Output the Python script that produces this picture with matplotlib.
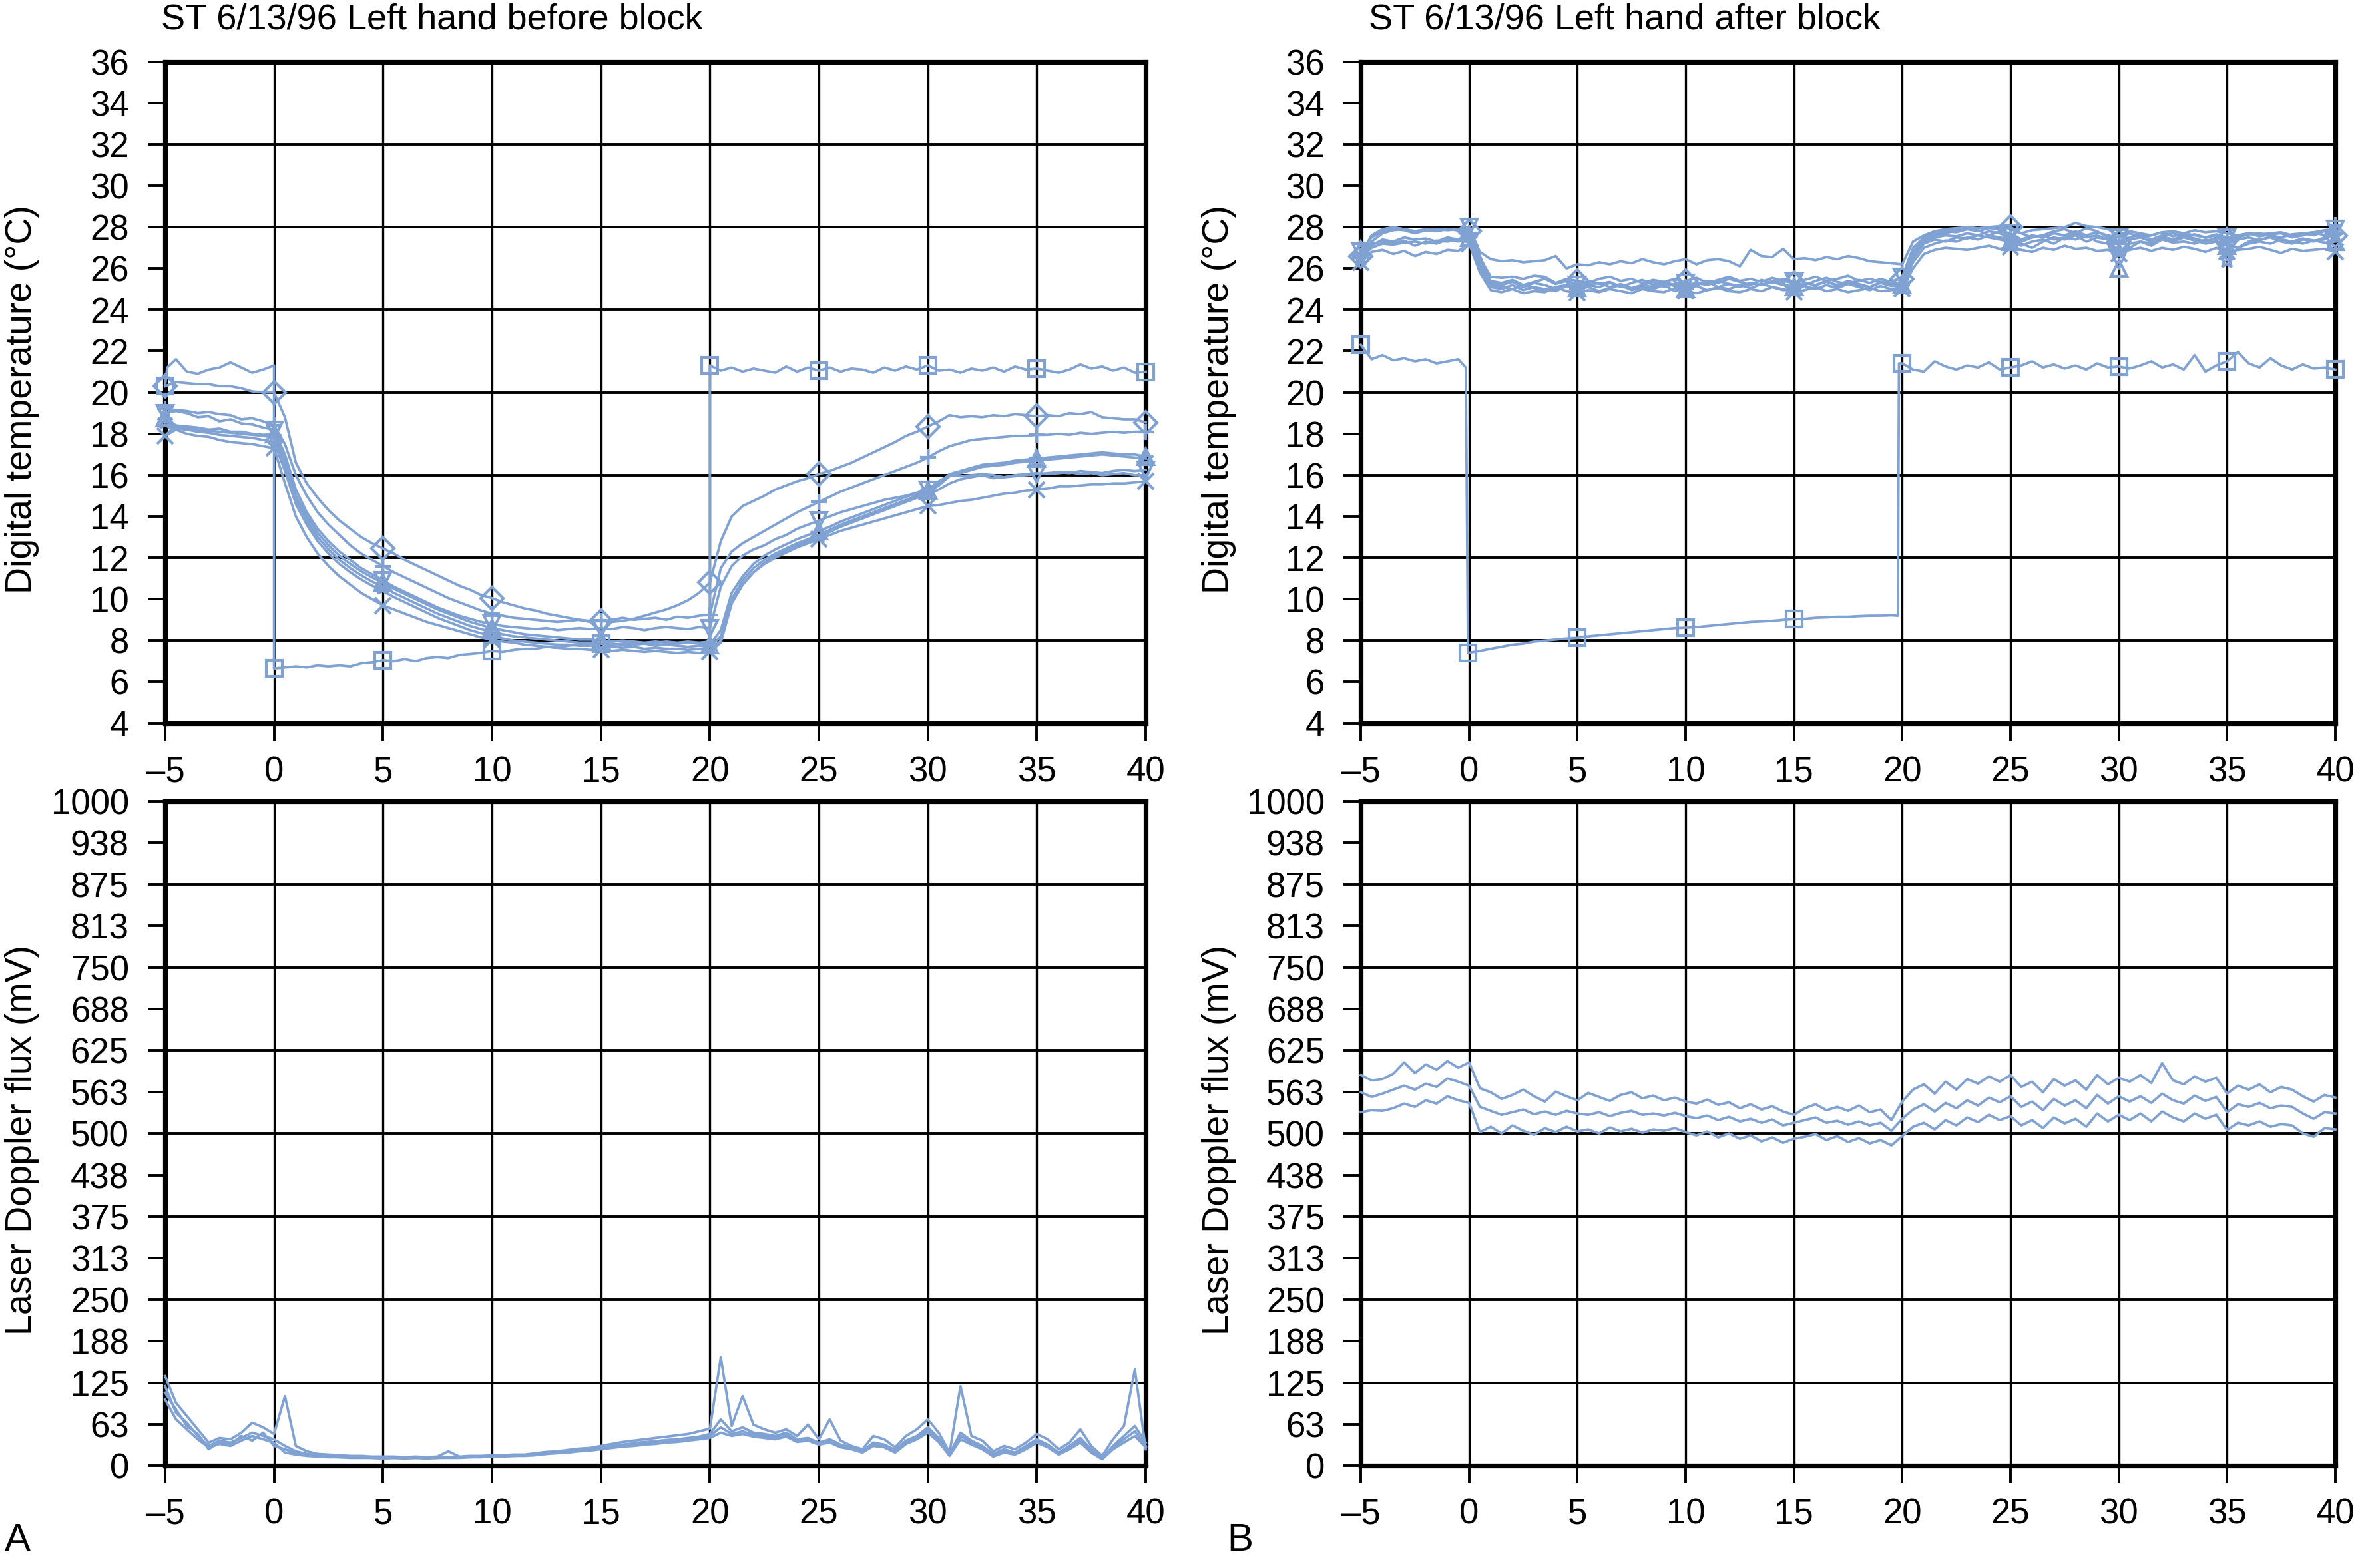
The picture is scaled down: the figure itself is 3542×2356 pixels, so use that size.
import numpy as np
import matplotlib
matplotlib.use('Agg')
import matplotlib.pyplot as plt

plt.rcParams['font.family'] = ['Liberation Sans', 'DejaVu Sans']

BLUE = '#80a2d3'

# time axis in minutes, one reading every 30 s
t = np.arange(-5, 40.01, 0.5)

x_ticks = [-5, 0, 5, 10, 15, 20, 25, 30, 35, 40]
x_tick_labels = ['–5', '0', '5', '10', '15', '20', '25', '30', '35', '40']

temp_ticks = list(range(4, 37, 2))
temp_grid = list(range(4, 37, 4))
flux_ticks = [0, 62.5, 125, 187.5, 250, 312.5, 375, 437.5, 500, 562.5, 625, 687.5, 750, 812.5, 875, 937.5, 1000]
flux_tick_labels = ['0', '63', '125', '188', '250', '313', '375', '438', '500', '563',
                    '625', '688', '750', '813', '875', '938', '1000']
flux_grid = [0, 125, 250, 375, 500, 625, 750, 875, 1000]

# ---------------- A: left hand before block, digital temperature ----------------
# square series has its own time stamps (vertical steps at 0 and 20 min)
a_sq_t = np.concatenate([[-5, -4.9], np.arange(-4.5, 0.01, 0.5),
                         np.arange(0, 20.01, 0.5), np.arange(20, 40.01, 0.5)])
a_sq = [20.3, 21.2, 21.6, 21.0, 20.9, 21.1, 21.2, 21.45, 21.2, 20.95, 21.1, 21.3,
        6.65, 6.7, 6.75, 6.7, 6.8, 6.75, 6.8, 6.75, 6.9, 6.95, 7.05,
        7.0, 7.1, 7.0, 7.15, 7.2, 7.15, 7.3, 7.35, 7.4, 7.5,
        7.45, 7.55, 7.6, 7.6, 7.7, 7.65, 7.75, 7.8, 7.75, 7.85,
        7.8, 7.85, 7.9, 7.85, 7.9, 7.95, 7.9, 7.95, 7.9, 7.95,
        21.3, 21.05, 21.2, 21.0, 21.15, 21.05, 20.95, 21.25, 21.0, 21.2, 21.05,
        21.2, 21.0, 21.15, 21.1, 20.95, 21.2, 21.05, 21.25, 21.1, 21.3,
        21.05, 21.1, 20.95, 21.15, 21.05, 21.2, 21.0, 21.25, 21.1, 21.15,
        21.05, 20.95, 21.1, 21.35, 21.15, 21.25, 21.05, 21.2, 20.95, 21.0]
a_sq_marks = [0, 12, 22, 32, 42, 53, 63, 73, 83, 93]

a1 = [20.3, 20.5, 20.45, 20.4, 20.4, 20.3, 20.3, 20.2, 20.05, 20.0, 20.0,
      18.8, 16.6, 15.6, 14.9, 14.3, 13.8, 13.4, 13.0, 12.7, 12.45,
      12.2, 11.9, 11.65, 11.4, 11.15, 10.9, 10.65, 10.45, 10.2, 10.05,
      9.85, 9.7, 9.55, 9.45, 9.3, 9.2, 9.1, 9.0, 8.95, 8.95,
      8.9, 8.95, 9.05, 9.2, 9.35, 9.5, 9.7, 9.95, 10.3, 10.8,
      12.8, 14.0, 14.5, 14.75, 15.0, 15.3, 15.5, 15.7, 15.85, 16.05,
      16.2, 16.4, 16.6, 16.85, 17.1, 17.35, 17.6, 17.9, 18.1, 18.35,
      18.6, 18.9, 18.8, 18.85, 18.8, 18.9, 18.85, 18.95, 18.9, 18.85,
      18.9, 18.85, 19.0, 18.95, 19.05, 18.8, 18.75, 18.7, 18.7, 18.55]
a2 = [19.2, 19.15, 19.1, 19.0, 19.05, 18.95, 18.9, 18.7, 18.75, 18.6, 18.4,
      17.5, 16.0, 15.0, 14.2, 13.6, 13.1, 12.6, 12.2, 11.9, 11.6,
      11.3, 11.05, 10.8, 10.55, 10.3, 10.05, 9.85, 9.65, 9.45, 9.3,
      9.2, 9.1, 9.05, 9.0, 8.95, 8.9, 8.95, 9.0, 8.9, 8.95,
      9.0, 9.1, 9.0, 9.05, 9.1, 9.0, 9.15, 9.1, 9.2, 9.25,
      11.5, 12.3, 12.7, 13.0, 13.3, 13.6, 13.9, 14.2, 14.45, 14.7,
      14.95, 15.2, 15.4, 15.6, 15.8, 16.0, 16.2, 16.4, 16.6, 16.85,
      17.15, 17.4, 17.55, 17.7, 17.75, 17.8, 17.85, 17.9, 17.9, 17.95,
      17.95, 18.0, 17.95, 18.05, 18.0, 18.05, 18.1, 18.05, 18.1, 18.1]
a3 = [19.0, 19.1, 19.0, 18.8, 18.85, 18.6, 18.7, 18.5, 18.45, 18.3, 18.2,
      17.0, 15.3, 14.2, 13.4, 12.8, 12.3, 11.9, 11.5, 11.2, 10.9,
      10.6, 10.35, 10.1, 9.85, 9.6, 9.4, 9.2, 9.05, 8.9, 8.8,
      8.7, 8.65, 8.6, 8.55, 8.6, 8.5, 8.55, 8.6, 8.55, 8.6,
      8.55, 8.65, 8.6, 8.5, 8.6, 8.65, 8.6, 8.55, 8.65, 8.6,
      10.6, 11.6, 12.1, 12.4, 12.6, 12.9, 13.1, 13.4, 13.6, 13.8,
      14.0, 14.2, 14.35, 14.5, 14.65, 14.8, 14.9, 15.0, 15.15, 15.3,
      15.7, 16.0, 15.95, 16.0, 16.05, 16.0, 15.9, 15.95, 16.0, 16.05,
      16.1, 16.15, 16.1, 16.2, 16.15, 16.1, 16.2, 16.25, 16.2, 16.25]
a4 = [18.8, 18.4, 18.35, 18.3, 18.2, 18.25, 18.1, 18.1, 18.0, 17.95, 18.0,
      16.8, 15.0, 14.0, 13.2, 12.6, 12.1, 11.7, 11.35, 11.05, 10.8,
      10.5, 10.25, 10.0, 9.75, 9.5, 9.3, 9.1, 8.9, 8.75, 8.6,
      8.5, 8.4, 8.3, 8.25, 8.2, 8.15, 8.1, 8.05, 8.05, 8.0,
      7.95, 8.0, 7.95, 7.9, 7.95, 7.9, 7.85, 7.9, 7.85, 7.8,
      8.5, 10.3, 11.1, 11.7, 12.1, 12.4, 12.65, 12.9, 13.1, 13.3,
      13.5, 13.75, 13.95, 14.15, 14.35, 14.55, 14.75, 14.95, 15.1, 15.25,
      15.6, 16.05, 16.2, 16.35, 16.5, 16.55, 16.6, 16.7, 16.75, 16.8,
      16.85, 16.9, 16.95, 17.0, 17.05, 17.1, 17.05, 17.0, 17.0, 16.9]
a5 = [18.6, 18.3, 18.25, 18.2, 18.15, 18.1, 18.05, 18.0, 17.95, 17.9, 17.8,
      16.5, 14.8, 13.8, 13.0, 12.4, 11.9, 11.5, 11.15, 10.85, 10.6,
      10.3, 10.05, 9.8, 9.55, 9.3, 9.1, 8.9, 8.7, 8.55, 8.4,
      8.3, 8.2, 8.15, 8.1, 8.05, 8.0, 7.95, 7.9, 7.9, 7.85,
      7.85, 7.8, 7.8, 7.85, 7.75, 7.8, 7.75, 7.7, 7.75, 7.7,
      8.2, 10.0, 10.9, 11.5, 11.9, 12.2, 12.45, 12.7, 12.9, 13.1,
      13.35, 13.6, 13.8, 14.0, 14.2, 14.4, 14.6, 14.8, 15.0, 15.15,
      15.5, 15.95, 16.1, 16.25, 16.4, 16.45, 16.5, 16.6, 16.65, 16.7,
      16.75, 16.8, 16.85, 16.9, 16.95, 17.0, 16.95, 16.9, 16.85, 16.8]
a6 = [18.4, 18.25, 18.2, 18.1, 18.05, 17.95, 17.9, 17.85, 17.8, 17.7, 17.6,
      16.2, 14.6, 13.6, 12.8, 12.2, 11.7, 11.3, 10.95, 10.65, 10.4,
      10.1, 9.85, 9.6, 9.35, 9.1, 8.9, 8.7, 8.5, 8.35, 8.2,
      8.1, 8.0, 7.95, 7.9, 7.85, 7.8, 7.8, 7.75, 7.75, 7.7,
      7.7, 7.65, 7.7, 7.6, 7.65, 7.6, 7.6, 7.55, 7.6, 7.55,
      8.0, 9.8, 10.7, 11.3, 11.75, 12.1, 12.35, 12.6, 12.8, 13.0,
      13.25, 13.5, 13.7, 13.9, 14.1, 14.3, 14.5, 14.7, 14.9, 15.05,
      15.3, 15.6, 15.8, 15.9, 16.0, 15.85, 15.9, 16.0, 16.05, 16.1,
      16.05, 16.1, 16.15, 16.05, 16.1, 16.0, 16.05, 16.1, 16.0, 16.0]
a7 = [17.9, 18.2, 18.0, 17.9, 17.85, 17.7, 17.6, 17.55, 17.5, 17.4, 17.3,
      15.6, 14.0, 13.0, 12.2, 11.6, 11.1, 10.7, 10.3, 10.0, 9.7,
      9.5, 9.3, 9.1, 8.9, 8.75, 8.6, 8.45, 8.3, 8.15, 8.05,
      7.95, 7.9, 7.8, 7.75, 7.7, 7.65, 7.6, 7.6, 7.55, 7.55,
      7.5, 7.55, 7.5, 7.45, 7.5, 7.45, 7.4, 7.45, 7.4, 7.45,
      7.9, 9.8, 10.7, 11.3, 11.7, 12.0, 12.25, 12.5, 12.7, 12.9,
      13.1, 13.3, 13.45, 13.6, 13.75, 13.9, 14.05, 14.2, 14.35, 14.5,
      14.55, 14.65, 14.75, 14.8, 14.9, 15.0, 15.1, 15.15, 15.25, 15.3,
      15.35, 15.45, 15.45, 15.5, 15.55, 15.55, 15.6, 15.6, 15.65, 15.7]
a_series = [a1, a2, a3, a4, a5, a6, a7]
a_markers = ['D', '+', 'v', '^', '*', None, 'x']

# ---------------- B: left hand after block, digital temperature ----------------
b_sq_t = np.concatenate([np.arange(-5, -0.49, 0.5), [-0.15, -0.05],
                         np.arange(0.5, 19.51, 0.5), [19.8, 19.85],
                         np.arange(20, 40.01, 0.5)])
b_sq = [22.3, 21.6, 21.8, 21.55, 21.65, 21.5, 21.6, 21.4, 21.5, 21.6, 21.2, 7.4,
        7.5, 7.6, 7.7, 7.8, 7.85, 7.95, 8.0, 8.05, 8.1, 8.13,
        8.2, 8.25, 8.3, 8.35, 8.4, 8.45, 8.5, 8.55, 8.6, 8.62,
        8.65, 8.7, 8.75, 8.8, 8.85, 8.9, 8.92, 8.95, 9.0, 9.03,
        9.05, 9.1, 9.12, 9.15, 9.15, 9.18, 9.2, 9.2, 9.22,
        9.2, 21.4,
        21.4, 21.1, 21.0, 21.5, 21.25, 21.1, 21.3, 21.2, 21.45, 21.1, 21.2,
        21.3, 21.5, 21.2, 21.35, 21.15, 21.3, 21.1, 21.4, 21.2, 21.25,
        21.15, 21.3, 21.5, 21.2, 21.35, 21.1, 21.8, 21.0, 21.3, 21.5,
        21.95, 21.4, 21.2, 21.65, 21.3, 21.1, 21.35, 21.15, 21.2, 21.1]
b_sq_marks = [0, 11, 21, 31, 41, 53, 63, 73, 83, 93]

b1 = [26.7, 27.6, 27.9, 28.0, 27.9, 27.8, 27.85, 27.8, 27.9, 27.85, 27.9,
      26.8, 26.45, 26.35, 26.4, 26.3, 26.35, 26.4, 26.6, 26.0, 26.2,
      26.15, 26.3, 26.2, 26.35, 26.25, 26.45, 26.3, 26.2, 26.35, 26.45,
      26.2, 26.4, 26.45, 26.35, 26.1, 26.9, 26.6, 26.55, 26.95, 26.45,
      26.5, 26.4, 26.55, 26.45, 26.6, 26.5, 26.35, 26.3, 26.25, 26.2,
      27.3, 27.6, 27.8, 27.9, 27.95, 28.0, 27.95, 28.0, 28.05, 27.9,
      27.7, 27.85, 27.9, 27.95, 28.0, 28.2, 28.05, 28.0, 27.9, 27.6,
      27.8, 27.7, 27.6, 27.75, 27.8, 27.7, 27.85, 27.75, 27.8, 27.7,
      27.6, 27.7, 27.65, 27.7, 27.75, 27.6, 27.7, 27.75, 27.85, 27.9]
b2 = [26.6, 27.3, 27.7, 27.85, 27.9, 27.8, 27.9, 27.85, 27.9, 27.85, 27.8,
      26.5, 25.6, 25.55, 25.6, 25.5, 25.65, 25.6, 25.3, 25.5, 25.4,
      25.3, 25.5, 25.6, 25.4, 25.5, 25.3, 25.45, 25.35, 25.2, 25.4,
      25.55, 25.3, 25.45, 25.6, 25.4, 25.5, 25.35, 25.55, 25.4, 25.3,
      25.45, 25.6, 25.4, 25.5, 25.65, 25.4, 25.5, 25.35, 25.4, 25.5,
      26.8, 27.4, 27.6, 27.7, 27.85, 27.9, 27.8, 27.95, 27.9, 28.0,
      27.7, 27.5, 27.6, 27.8, 27.9, 27.7, 27.95, 27.8, 27.5, 27.3,
      27.5, 27.65, 27.4, 27.6, 27.7, 27.55, 27.65, 27.5, 27.6, 27.4,
      27.5, 27.65, 27.7, 27.6, 27.5, 27.65, 27.7, 27.6, 27.8, 27.6]
b3 = [26.9, 27.2, 27.3, 27.2, 27.35, 27.1, 27.3, 27.2, 27.4, 27.3, 27.5,
      26.2, 25.3, 25.2, 25.35, 25.1, 25.3, 25.2, 25.0, 25.2, 25.05,
      25.2, 25.1, 25.3, 25.15, 25.0, 25.2, 25.35, 25.1, 25.25, 25.0,
      25.2, 25.35, 25.1, 25.25, 25.15, 25.3, 25.2, 25.4, 25.25, 25.1,
      25.3, 25.2, 25.35, 25.2, 25.4, 25.25, 25.1, 25.3, 25.15, 25.2,
      26.5, 27.2, 27.4, 27.3, 27.5, 27.45, 27.6, 27.5, 27.4, 27.3,
      27.1, 27.3, 27.4, 27.2, 27.5, 27.4, 27.6, 27.3, 27.2, 26.0,
      27.2, 27.3, 27.1, 27.4, 27.25, 27.3, 27.2, 27.4, 27.3, 27.1,
      27.0, 27.2, 27.3, 27.2, 27.4, 27.3, 27.2, 27.35, 27.25, 27.3]
b4 = [26.5, 27.0, 27.2, 27.15, 27.25, 27.3, 27.2, 27.35, 27.3, 27.4, 27.6,
      26.0, 25.1, 25.0, 25.2, 24.95, 25.1, 25.0, 24.9, 25.15, 25.0,
      25.1, 24.9, 25.05, 25.2, 24.95, 25.1, 25.0, 25.2, 24.9, 25.05,
      25.15, 24.95, 25.1, 25.0, 25.2, 25.05, 25.25, 25.1, 24.95, 25.0,
      25.15, 25.0, 25.2, 25.05, 25.25, 25.1, 24.95, 25.15, 25.0, 25.1,
      26.3, 27.0, 27.2, 27.35, 27.3, 27.5, 27.4, 27.6, 27.5, 27.4,
      27.2, 27.0, 27.3, 27.5, 27.4, 27.6, 27.3, 27.5, 27.4, 26.8,
      27.0, 27.3, 27.2, 27.45, 27.3, 27.5, 27.35, 27.2, 27.3, 26.4,
      27.0, 27.3, 27.4, 27.5, 27.3, 27.2, 27.4, 27.3, 27.5, 27.6]
b5 = [26.3, 26.8, 26.9, 26.7, 26.85, 26.6, 26.8, 26.7, 26.9, 26.85, 27.2,
      25.8, 24.95, 24.85, 25.0, 24.8, 24.9, 24.85, 25.1, 24.9, 24.8,
      24.95, 24.85, 25.0, 24.9, 24.8, 25.0, 24.9, 24.85, 25.05, 24.9,
      24.8, 24.95, 25.05, 24.9, 24.85, 25.0, 24.9, 25.1, 25.0, 24.85,
      24.95, 25.1, 24.9, 25.0, 24.85, 24.95, 25.05, 24.9, 24.95, 25.0,
      26.0, 26.7, 26.9, 27.0, 26.95, 26.9, 27.0, 27.1, 26.95, 27.05,
      26.9, 26.8, 27.0, 26.9, 27.1, 26.95, 27.0, 26.85, 26.9, 26.7,
      26.9, 27.0, 26.85, 27.0, 26.9, 27.05, 26.95, 26.8, 27.0, 26.8,
      26.9, 26.95, 27.05, 26.9, 26.75, 26.95, 26.85, 26.9, 26.95, 26.8]
b6 = [26.8, 27.5, 27.8, 27.9, 27.85, 27.7, 27.85, 27.9, 27.85, 27.9, 28.0,
      26.6, 25.4, 25.3, 25.45, 25.2, 25.35, 25.5, 25.25, 25.4, 25.2,
      25.4, 25.25, 25.35, 25.1, 25.3, 25.45, 25.2, 25.35, 25.5, 25.3,
      25.2, 25.4, 25.3, 25.5, 25.35, 25.2, 25.45, 25.3, 25.5, 25.35,
      25.2, 25.4, 25.55, 25.35, 25.25, 25.45, 25.3, 25.5, 25.35, 25.6,
      27.0, 27.5, 27.7, 27.8, 27.75, 27.9, 27.85, 27.6, 27.8, 27.7,
      27.4, 27.6, 27.5, 27.7, 27.6, 27.8, 27.6, 27.75, 27.6, 27.5,
      27.7, 27.5, 27.6, 27.75, 27.55, 27.7, 27.6, 27.5, 27.65, 27.5,
      27.6, 27.7, 27.55, 27.65, 27.7, 27.5, 27.6, 27.75, 27.6, 27.9]
b7 = [26.6, 27.1, 27.4, 27.3, 27.5, 27.4, 27.45, 27.3, 27.5, 27.4, 27.7,
      26.4, 25.2, 25.1, 25.0, 25.2, 25.05, 24.9, 25.1, 25.2, 25.0,
      25.2, 25.3, 25.1, 25.25, 25.05, 25.2, 25.1, 25.3, 25.15, 25.0,
      25.3, 25.2, 25.4, 25.25, 25.1, 25.3, 25.2, 25.35, 25.2, 25.1,
      25.3, 25.2, 25.4, 25.15, 25.3, 25.2, 25.1, 25.35, 25.25, 25.2,
      26.6, 27.3, 27.5, 27.6, 27.55, 27.7, 27.6, 27.8, 27.7, 27.5,
      27.3, 27.5, 27.6, 27.4, 27.5, 27.7, 27.5, 27.6, 27.4, 27.2,
      27.4, 27.5, 27.3, 27.55, 27.4, 27.6, 27.45, 27.3, 27.5, 27.3,
      27.4, 27.5, 27.35, 27.55, 27.4, 27.3, 27.45, 27.35, 27.4, 28.1]
b_series = [b1, b2, b3, b4, b5, b6, b7]
b_markers = [None, 'D', '^', '*', 'x', 'v', '+']

# ---------------- laser Doppler flux (mV) ----------------
fa1 = [135, 95, 75, 55, 35, 42, 40, 50, 65, 58, 48,
       105, 30, 22, 18, 17, 16, 15, 15, 14, 14,
       14, 13, 14, 13, 14, 22, 14, 15, 15, 16,
       16, 17, 17, 19, 21, 22, 24, 26, 27, 30,
       33, 36, 38, 40, 42, 44, 46, 48, 52, 56,
       163, 60, 105, 62, 55, 50, 55, 45, 62, 40,
       70, 38, 30, 25, 45, 40, 28, 45, 55, 70,
       50, 20, 120, 45, 38, 22, 30, 25, 35, 48,
       40, 25, 35, 55, 30, 15, 40, 60, 145, 25]
fa2 = [120, 80, 65, 45, 30, 38, 35, 42, 50, 45, 40,
       30, 22, 18, 16, 15, 14, 14, 13, 13, 12,
       13, 12, 13, 12, 13, 13, 13, 14, 14, 15,
       15, 16, 16, 18, 19, 21, 22, 24, 25, 27,
       30, 32, 34, 36, 37, 39, 40, 42, 44, 48,
       70, 52, 58, 50, 48, 45, 50, 40, 42, 35,
       40, 32, 28, 22, 35, 32, 24, 38, 45, 58,
       42, 18, 50, 38, 30, 18, 25, 20, 30, 40,
       32, 20, 30, 42, 25, 12, 30, 45, 60, 35]
fa3 = [100, 70, 55, 40, 28, 33, 30, 38, 45, 40, 35,
       20, 17, 15, 14, 13, 13, 12, 12, 12, 11,
       12, 11, 12, 11, 12, 12, 12, 13, 13, 14,
       14, 15, 15, 16, 18, 19, 20, 22, 23, 25,
       27, 29, 30, 32, 33, 35, 36, 38, 40, 42,
       50, 45, 48, 44, 42, 40, 44, 36, 38, 32,
       35, 28, 25, 20, 30, 28, 20, 33, 40, 50,
       36, 15, 40, 32, 25, 14, 20, 17, 25, 35,
       28, 17, 25, 35, 20, 10, 25, 35, 45, 28]
fa4 = [110, 85, 60, 48, 25, 36, 32, 45, 38, 50, 30,
       25, 19, 16, 15, 14, 13, 13, 13, 12, 12,
       12, 12, 12, 12, 12, 13, 13, 13, 14, 14,
       15, 15, 16, 17, 18, 20, 21, 23, 24, 26,
       28, 31, 32, 34, 35, 37, 38, 40, 42, 45,
       58, 48, 52, 47, 45, 42, 47, 38, 40, 34,
       37, 30, 26, 21, 32, 30, 22, 35, 42, 54,
       39, 16, 45, 35, 27, 16, 22, 18, 27, 37,
       30, 18, 27, 38, 22, 11, 27, 40, 52, 30]
fa_series = [fa1, fa2, fa3, fa4]

fb1 = [588, 580, 582, 590, 607, 591, 604, 596, 609, 599, 607,
       568, 562, 552, 558, 566, 556, 548, 563, 556, 550,
       561, 555, 549, 558, 562, 553, 557, 550, 554, 548,
       545, 551, 543, 547, 538, 544, 536, 541, 533, 528,
       538, 544, 535, 540, 534, 542, 532, 536, 520, 548,
       566, 574, 560, 578, 566, 582, 575, 586, 578, 588,
       570, 578, 562, 582, 572, 580, 566, 588, 574, 584,
       578, 588, 576, 606, 580, 574, 586, 578, 584, 560,
       572, 566, 574, 562, 570, 566, 556, 548, 558, 554]
fb2 = [562, 555, 560, 566, 572, 566, 575, 570, 583, 578, 572,
       540, 534, 528, 532, 536, 529, 533, 528, 534, 530,
       528, 532, 526, 531, 534, 528, 530, 527, 531, 526,
       523, 527, 520, 525, 518, 522, 516, 521, 512, 516,
       520, 524, 516, 519, 513, 518, 512, 516, 504, 522,
       536, 544, 533, 546, 538, 550, 542, 554, 547, 556,
       540, 548, 535, 552, 542, 550, 538, 558, 545, 556,
       548, 556, 546, 560, 550, 545, 557, 549, 555, 532,
       544, 540, 546, 538, 542, 540, 530, 522, 532, 530]
fb3 = [532, 535, 534, 538, 545, 540, 550, 545, 556, 550, 546,
       502, 510, 500, 512, 504, 498, 508, 502, 510, 503,
       506, 500, 509, 503, 507, 501, 506, 504, 508, 502,
       497, 503, 494, 500, 492, 497, 488, 494, 486, 492,
       495, 499, 490, 496, 487, 493, 485, 490, 482, 496,
       510, 516, 506, 520, 512, 524, 517, 528, 520, 526,
       512, 520, 508, 524, 515, 522, 510, 530, 518, 528,
       520, 530, 518, 533, 524, 518, 530, 522, 528, 505,
       516, 512, 518, 510, 514, 512, 500, 495, 508, 506]
fb_series = [fb1, fb2, fb3]


def draw(ax, x, y, marker=None, marks=10):
    ax.plot(x, y, color=BLUE, lw=1.35, marker=marker, markevery=marks, ms=8.5,
            mfc='none', mec=BLUE, mew=1.5, clip_on=False, zorder=3)


def style(ax, yticks, yticklabels, ygrid, ylim, ylabel):
    ax.set_xlim(-5, 40)
    ax.set_ylim(*ylim)
    ax.set_xticks(x_ticks)
    ax.set_xticklabels(x_tick_labels)
    ax.set_yticks(yticks)
    ax.set_yticklabels(yticklabels)
    for v in x_ticks:
        ax.axvline(v, color='black', lw=1.2, zorder=1)
    for v in ygrid:
        ax.axhline(v, color='black', lw=1.4, zorder=1)
    for sp in ax.spines.values():
        sp.set_linewidth(2.6)
    ax.tick_params(axis='both', direction='out', length=9.5, width=1.4,
                   labelsize=19, colors='black')
    ax.tick_params(axis='y', pad=10)
    ax.tick_params(axis='x', pad=8)
    ax.set_ylabel(ylabel, fontsize=20)
    ax.yaxis.set_label_coords(-0.128, 0.49)


fig = plt.figure(figsize=(17.71, 11.78), dpi=200)
ax_a = fig.add_axes([0.0700, 0.5388, 0.4159, 0.4219])
ax_b = fig.add_axes([0.5771, 0.5388, 0.4133, 0.4219])
ax_c = fig.add_axes([0.0700, 0.0652, 0.4159, 0.4238])
ax_d = fig.add_axes([0.5771, 0.0652, 0.4133, 0.4238])

temp_label = 'Digital temperature (°C)'
flux_label = 'Laser Doppler flux (mV)'

for ax in (ax_a, ax_b):
    style(ax, temp_ticks, [str(v) for v in temp_ticks], temp_grid, (4, 36), temp_label)
for ax in (ax_c, ax_d):
    style(ax, flux_ticks, flux_tick_labels, flux_grid, (0, 1000), flux_label)

# panel A top
draw(ax_a, a_sq_t, a_sq, 's', a_sq_marks)
for y, m in zip(a_series, a_markers):
    draw(ax_a, t, y, m)

# panel B top
draw(ax_b, b_sq_t, b_sq, 's', b_sq_marks)
for y, m in zip(b_series, b_markers):
    draw(ax_b, t, y, m)

# flux panels
for y in fa_series:
    draw(ax_c, t, y)
for y in fb_series:
    draw(ax_d, t, y)

fig.text(0.0682, 0.9875, 'ST 6/13/96 Left hand before block', fontsize=19.5, va='center')
fig.text(0.5804, 0.9875, 'ST 6/13/96 Left hand after block', fontsize=19.5, va='center')
fig.text(0.002, 0.0174, 'A', fontsize=21, va='center')
fig.text(0.5205, 0.0174, 'B', fontsize=21, va='center')

fig.savefig('out.png', dpi=200)
